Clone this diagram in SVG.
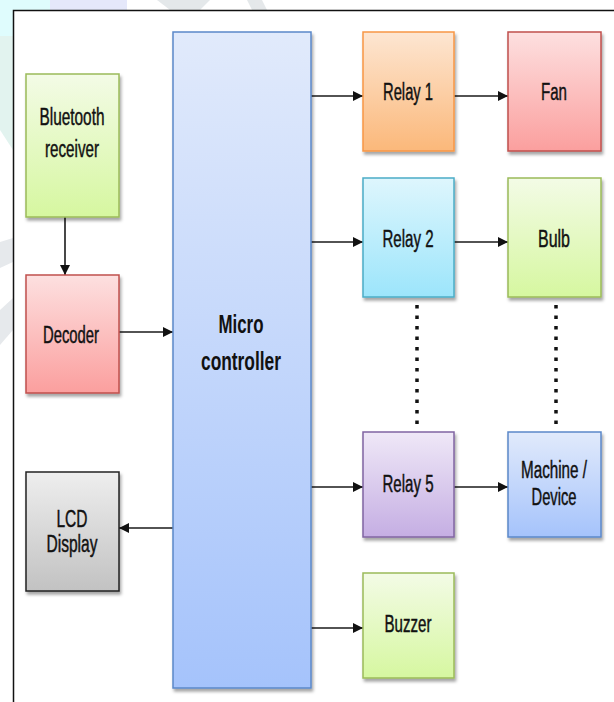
<svg xmlns="http://www.w3.org/2000/svg" width="614" height="702" viewBox="0 0 614 702">
  <style>
    .lbl { font-family: "Liberation Sans Narrow", "Liberation Sans", Arial, sans-serif; font-size: 23px; fill: #111; stroke: #111; stroke-width: 0.45; text-anchor: middle; }
    .big { font-family: "Liberation Sans Narrow", "Liberation Sans", Arial, sans-serif; font-size: 25px; font-weight: bold; fill: #111; text-anchor: middle; }
    .box { stroke-width: 1.5; filter: url(#sh); }
    .wire { stroke: #1a1a1a; stroke-width: 1.6; fill: none; marker-end: url(#ah); }
    .dots { stroke: #111; stroke-width: 3.5; fill: none; stroke-dasharray: 3.5 7; }
  </style>
  <defs>
    <filter id="sh" x="-10%" y="-10%" width="130%" height="130%">
      <feDropShadow dx="1.5" dy="3" stdDeviation="1.8" flood-color="#000" flood-opacity="0.35"/>
    </filter>
    <marker id="ah" viewBox="0 0 10 10" refX="10" refY="5" markerWidth="10" markerHeight="10" markerUnits="userSpaceOnUse" orient="auto">
      <path d="M0,0 L10,5 L0,10 z" fill="#111"/>
    </marker>
    <linearGradient id="gGreen" x1="0" y1="0" x2="0" y2="1"><stop offset="0" stop-color="#f3fbe6"/><stop offset="1" stop-color="#d6f7a0"/></linearGradient>
    <linearGradient id="gRed" x1="0" y1="0" x2="0" y2="1"><stop offset="0" stop-color="#fde0e0"/><stop offset="1" stop-color="#fb9f9e"/></linearGradient>
    <linearGradient id="gGrey" x1="0" y1="0" x2="0" y2="1"><stop offset="0" stop-color="#eeeeee"/><stop offset="1" stop-color="#c2c2c2"/></linearGradient>
    <linearGradient id="gBlue" x1="0" y1="0" x2="0" y2="1"><stop offset="0" stop-color="#e1eafb"/><stop offset="1" stop-color="#a5c3fb"/></linearGradient>
    <linearGradient id="gOrange" x1="0" y1="0" x2="0" y2="1"><stop offset="0" stop-color="#fde6d2"/><stop offset="1" stop-color="#fbb87a"/></linearGradient>
    <linearGradient id="gCyan" x1="0" y1="0" x2="0" y2="1"><stop offset="0" stop-color="#def6fd"/><stop offset="1" stop-color="#9ce5fb"/></linearGradient>
    <linearGradient id="gPurple" x1="0" y1="0" x2="0" y2="1"><stop offset="0" stop-color="#efe8f7"/><stop offset="1" stop-color="#c5aee3"/></linearGradient>
  </defs>

  <rect width="614" height="702" fill="#ffffff"/>

  <!-- faint watermark in the margins -->
  <g id="watermark" opacity="0.9">
    <rect x="0" y="0" width="50" height="10" fill="#dcfcfd"/>
    <rect x="50" y="0" width="77" height="10" fill="#e3e6fa"/>
    <path d="M157,0 L210,0 L200,10 L170,10 z" fill="#e2e6e8"/>
    <path d="M247,0 L262,0 L267,10 L252,10 z" fill="#e2e6e8"/>
    <rect x="0" y="0" width="13" height="36" fill="#dcfcfd"/>
    <path d="M0,36 L13,36 L13,150 L0,130 z" fill="#dff2ee"/>
    <path d="M0,242 L13,238 L13,262 L0,268 z" fill="#e4e7ea"/>
    <path d="M0,310 L13,298 L13,330 L0,345 z" fill="#e4e7ea"/>
  </g>

  <!-- frame -->
  <path d="M13.5,702 L13.5,10.5 L614,10.5" fill="none" stroke="#111" stroke-width="1.5"/>

  <g id="connectors">
    <line class="wire" x1="65" y1="217" x2="65" y2="275"/>
    <line class="wire" x1="119" y1="332" x2="173" y2="332"/>
    <line class="wire" x1="173" y1="528" x2="119" y2="528"/>
    <line class="wire" x1="311" y1="96" x2="363" y2="96"/>
    <line class="wire" x1="454" y1="96" x2="508" y2="96"/>
    <line class="wire" x1="311" y1="242" x2="363" y2="242"/>
    <line class="wire" x1="454" y1="242" x2="508" y2="242"/>
    <line class="wire" x1="311" y1="487" x2="363" y2="487"/>
    <line class="wire" x1="454" y1="487" x2="508" y2="487"/>
    <line class="wire" x1="311" y1="628" x2="363" y2="628"/>
    <line class="dots" x1="417" y1="305" x2="417" y2="428"/>
    <line class="dots" x1="556" y1="305" x2="556" y2="428"/>
  </g>

  <g id="bluetooth">
    <rect class="box" x="26" y="74" width="93" height="143" fill="url(#gGreen)" stroke="#9bbb59"/>
    <text class="lbl" x="72" y="125" textLength="65" lengthAdjust="spacingAndGlyphs">Bluetooth</text>
    <text class="lbl" x="72" y="157" textLength="54" lengthAdjust="spacingAndGlyphs">receiver</text>
  </g>
  <g id="decoder">
    <rect class="box" x="26" y="275" width="93" height="118" fill="url(#gRed)" stroke="#c0504d"/>
    <text class="lbl" x="71" y="343" textLength="56" lengthAdjust="spacingAndGlyphs">Decoder</text>
  </g>
  <g id="lcd">
    <rect class="box" x="26" y="472" width="93" height="119" fill="url(#gGrey)" stroke="#222"/>
    <text class="lbl" x="72" y="527" textLength="31" lengthAdjust="spacingAndGlyphs">LCD</text>
    <text class="lbl" x="72" y="552" textLength="51" lengthAdjust="spacingAndGlyphs">Display</text>
  </g>
  <g id="microcontroller">
    <rect class="box" x="173" y="32" width="138" height="656" fill="url(#gBlue)" stroke="#5b88c9"/>
    <text class="big" x="241" y="333" textLength="45" lengthAdjust="spacingAndGlyphs">Micro</text>
    <text class="big" x="241" y="370" textLength="80" lengthAdjust="spacingAndGlyphs">controller</text>
  </g>
  <g id="relay1">
    <rect class="box" x="363" y="32" width="91" height="119" fill="url(#gOrange)" stroke="#f79646"/>
    <text class="lbl" x="408" y="100" textLength="50" lengthAdjust="spacingAndGlyphs">Relay 1</text>
  </g>
  <g id="fan">
    <rect class="box" x="508" y="32" width="93" height="119" fill="url(#gRed)" stroke="#c0504d"/>
    <text class="lbl" x="554" y="100" textLength="26" lengthAdjust="spacingAndGlyphs">Fan</text>
  </g>
  <g id="relay2">
    <rect class="box" x="363" y="178" width="91" height="119" fill="url(#gCyan)" stroke="#4bacc6"/>
    <text class="lbl" x="408" y="247" textLength="51" lengthAdjust="spacingAndGlyphs">Relay 2</text>
  </g>
  <g id="bulb">
    <rect class="box" x="508" y="178" width="93" height="119" fill="url(#gGreen)" stroke="#9bbb59"/>
    <text class="lbl" x="554" y="247" textLength="32" lengthAdjust="spacingAndGlyphs">Bulb</text>
  </g>
  <g id="relay5">
    <rect class="box" x="363" y="432" width="91" height="105" fill="url(#gPurple)" stroke="#8064a2"/>
    <text class="lbl" x="408" y="492" textLength="51" lengthAdjust="spacingAndGlyphs">Relay 5</text>
  </g>
  <g id="machine">
    <rect class="box" x="508" y="432" width="93" height="105" fill="url(#gBlue)" stroke="#5b88c9"/>
    <text class="lbl" x="554" y="478" textLength="66" lengthAdjust="spacingAndGlyphs">Machine /</text>
    <text class="lbl" x="554" y="505" textLength="45" lengthAdjust="spacingAndGlyphs">Device</text>
  </g>
  <g id="buzzer">
    <rect class="box" x="363" y="573" width="91" height="105" fill="url(#gGreen)" stroke="#9bbb59"/>
    <text class="lbl" x="408" y="632" textLength="47" lengthAdjust="spacingAndGlyphs">Buzzer</text>
  </g>
</svg>
